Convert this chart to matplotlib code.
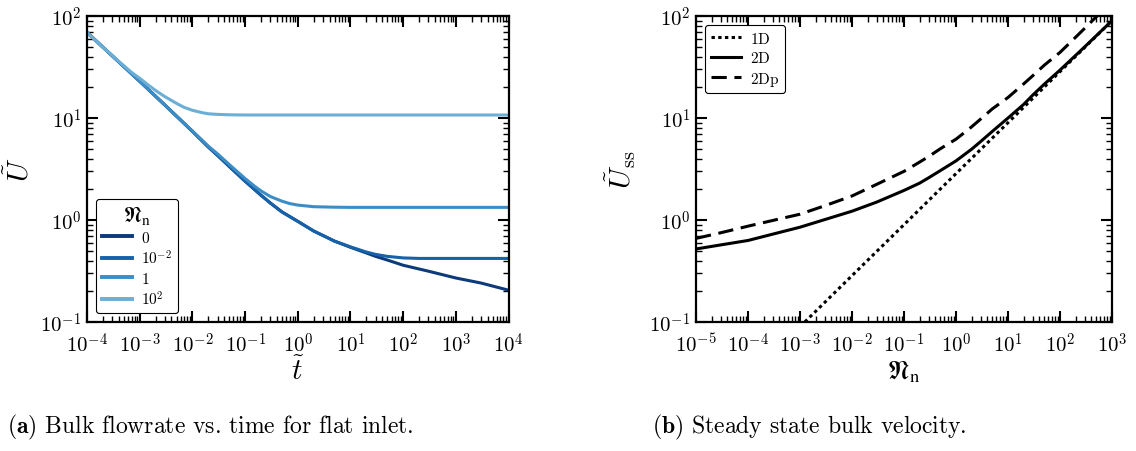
import math
import matplotlib
matplotlib.use("Agg")
import matplotlib.pyplot as plt
from matplotlib.ticker import FuncFormatter, LogLocator, NullFormatter

plt.rcParams['mathtext.fontset'] = 'cm'
plt.rcParams['font.family'] = 'serif'
plt.rcParams['font.serif'] = ['cmr10', 'DejaVu Serif']
plt.rcParams['axes.unicode_minus'] = False

# (a) bulk flowrate vs time, one curve per Nn
t_0 = [1e-4, 1e-3, 3e-3, 1e-2, 2e-2, 3e-2, 5e-2, 1e-1, 2e-1, 3e-1, 5e-1, 1, 2, 3, 5, 10,
       20, 30, 50, 100, 300, 1e3, 3e3, 1e4]
U_0 = [69, 22.9, 13.4, 7.4, 5.2, 4.3, 3.35, 2.4, 1.75, 1.47, 1.2, 0.97, 0.78, 0.705, 0.62, 0.54,
       0.475, 0.44, 0.405, 0.36, 0.315, 0.27, 0.241, 0.205]
t_m2 = [1e-4, 1e-3, 3e-3, 1e-2, 2e-2, 3e-2, 5e-2, 1e-1, 2e-1, 3e-1, 5e-1, 1, 2, 3, 5, 10,
        20, 30, 50, 100, 200, 1e3, 1e4]
U_m2 = [69, 22.9, 13.4, 7.4, 5.2, 4.3, 3.35, 2.4, 1.75, 1.47, 1.2, 0.97, 0.78, 0.705, 0.62, 0.545,
        0.485, 0.46, 0.44, 0.425, 0.42, 0.42, 0.42]
t_1 = [1e-4, 1e-3, 3e-3, 1e-2, 2e-2, 3e-2, 5e-2, 7e-2, 1e-1, 1.5e-1, 2e-1, 3e-1, 5e-1, 7e-1,
       1, 2, 5, 10, 1e4]
U_1 = [69, 22.9, 13.4, 7.45, 5.3, 4.45, 3.5, 3.0, 2.55, 2.15, 1.93, 1.70, 1.53, 1.45,
       1.40, 1.35, 1.335, 1.33, 1.33]
t_2 = [1e-4, 2e-4, 3e-4, 5e-4, 7e-4, 1e-3, 1.5e-3, 2e-3, 3e-3, 5e-3, 7e-3, 1e-2, 1.5e-2,
       2e-2, 3e-2, 5e-2, 1e-1, 1e4]
U_2 = [69, 49.5, 41, 32.5, 28, 24.5, 20.8, 18.6, 16.2, 13.9, 12.7, 11.9, 11.3,
       11.0, 10.85, 10.75, 10.7, 10.7]
labels_a = ['$0$', '$10^{-2}$', '$1$', '$10^{2}$']
colors_a = ['#0c3a7a', '#1662aa', '#3c8cc6', '#6baed6']

# (b) steady state bulk velocity
N_1D = [1e-3, 1e-2, 1e-1, 1, 10, 100, 1e3]
U_1D = [0.09, 0.285, 0.9, 2.85, 9.0, 28.5, 90]
N_2D = [1e-5, 3e-5, 1e-4, 3e-4, 1e-3, 3e-3, 1e-2, 3e-2, 1e-1, 2e-1, 3e-1, 5e-1, 1, 2, 3, 5,
        10, 20, 30, 50, 100, 300, 1e3]
U_2D = [0.52, 0.57, 0.63, 0.727, 0.85, 1.01, 1.22, 1.5, 1.95, 2.3, 2.6, 3.05, 3.8, 4.95, 5.9, 7.4,
        10, 13.6, 16.8, 21.5, 29.5, 50, 90]
N_2Dp = [1e-5, 3e-5, 1e-4, 3e-4, 1e-3, 3e-3, 1e-2, 3e-2, 1e-1, 2e-1, 3e-1, 5e-1, 1, 2, 3, 5,
         10, 20, 30, 50, 100, 200, 300, 1e3]
U_2Dp = [0.66, 0.75, 0.87, 0.99, 1.14, 1.38, 1.72, 2.24, 3.0, 3.7, 4.2, 5.0, 6.2, 8.2, 9.8, 12.3,
         15.9, 21.6, 26, 33, 44, 62, 76, 140]

fig = plt.figure(figsize=(11.36, 4.52), dpi=100)
ax1 = fig.add_axes([0.0766, 0.2854, 0.3711, 0.677])
ax2 = fig.add_axes([0.6127, 0.2854, 0.3662, 0.677])

fmt = FuncFormatter(lambda v, p: r'$10^{%d}$' % round(math.log10(v)))

for ax in (ax1, ax2):
    ax.set_xscale('log')
    ax.set_yscale('log')
    ax.xaxis.set_major_locator(LogLocator(base=10, numticks=20))
    ax.yaxis.set_major_locator(LogLocator(base=10, numticks=20))
    ax.xaxis.set_minor_locator(LogLocator(base=10, subs=range(2, 10), numticks=20))
    ax.yaxis.set_minor_locator(LogLocator(base=10, subs=range(2, 10), numticks=20))
    ax.xaxis.set_major_formatter(fmt)
    ax.yaxis.set_major_formatter(fmt)
    ax.xaxis.set_minor_formatter(NullFormatter())
    ax.yaxis.set_minor_formatter(NullFormatter())
    ax.tick_params(which='both', direction='in', top=True, right=True, labelsize=15)
    ax.tick_params(axis='x', pad=7)
    ax.tick_params(axis='y', pad=4)
    ax.tick_params(which='major', length=8, width=1.5)
    ax.tick_params(which='minor', length=4, width=1.0)
    for s in ax.spines.values():
        s.set_linewidth(1.6)

for tt, uu, lab, c in zip([t_0, t_m2, t_1, t_2], [U_0, U_m2, U_1, U_2], labels_a, colors_a):
    ax1.plot(tt, uu, color=c, lw=2.2, label=lab)
ax1.set_xlim(1e-4, 1e4)
ax1.set_ylim(1e-1, 1e2)
ax1.set_xlabel(r'$\tilde{t}$', fontsize=21, labelpad=0)
ax1.set_ylabel(r'$\tilde{U}$', fontsize=21, labelpad=4)
leg = ax1.legend(loc='lower left', fontsize=11, title=r'$\mathfrak{N}_\mathrm{n}$',
                 title_fontsize=16, handlelength=2.0, borderaxespad=0.6,
                 labelspacing=0.25, handletextpad=0.6, borderpad=0.35,
                 fancybox=True, framealpha=1, edgecolor='black')
leg.get_frame().set_linewidth(0.8)
leg.get_title().set_math_fontfamily('stix')
for line in leg.get_lines():
    line.set_linewidth(2.8)

ax2.plot(N_1D, U_1D, color='black', lw=2.2, dashes=(1.1, 1.1), label=r'$\mathrm{1D}$')
ax2.plot(N_2D, U_2D, color='black', lw=2.2, label=r'$\mathrm{2D}$')
ax2.plot(N_2Dp, U_2Dp, color='black', lw=2.2, dashes=(5, 2.5), label=r'$\mathrm{2Dp}$')
ax2.set_xlim(1e-5, 1e3)
ax2.set_ylim(1e-1, 1e2)
ax2.set_xlabel(r'$\mathfrak{N}_\mathrm{n}$', fontsize=19, labelpad=2, math_fontfamily='stix')
ax2.set_ylabel(r'$\tilde{U}_\mathrm{ss}$', fontsize=21, labelpad=8)
leg2 = ax2.legend(loc='upper left', fontsize=11, handlelength=2.0, borderaxespad=0.6,
                  labelspacing=0.3, handletextpad=0.6, borderpad=0.35,
                  fancybox=True, framealpha=1, edgecolor='black')
leg2.get_frame().set_linewidth(0.8)

fig.text(0.006, 0.04, r'$\mathbf{(a)}$ Bulk flowrate vs. time for flat inlet.', fontsize=17)
fig.text(0.574, 0.04, r'$\mathbf{(b)}$ Steady state bulk velocity.', fontsize=17)

fig.savefig('out.png', dpi=100)
